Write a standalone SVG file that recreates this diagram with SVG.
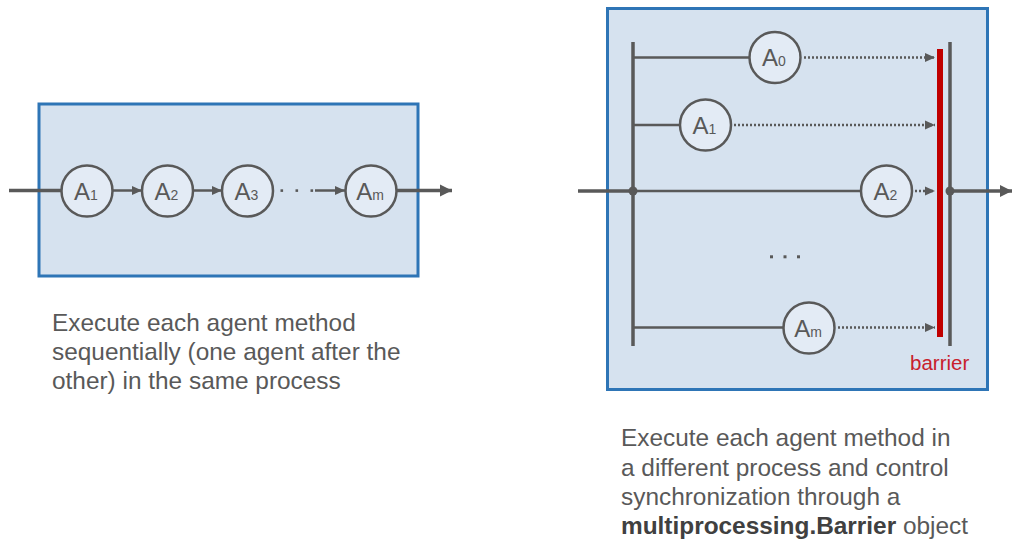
<svg xmlns="http://www.w3.org/2000/svg" width="1012" height="542" viewBox="0 0 1012 542">
  <style>
    .box { fill: #d6e2ef; stroke: #2e75b6; stroke-width: 3; }
    .agent circle { fill: #e3ebf5; stroke: #595959; stroke-width: 2.5; }
    .lbl { font-family: "Liberation Sans", Arial, sans-serif; font-size: 24px; fill: #595959; text-anchor: middle; }
    .sub { font-size: 14px; }
    .wire { stroke: #595959; stroke-width: 2.5; fill: none; }
    .thick { stroke: #595959; stroke-width: 3.5; fill: none; }
    .dots { stroke: #595959; stroke-width: 2.5; stroke-dasharray: 2 2; fill: none; }
    .caption { font-family: "Liberation Sans", Arial, sans-serif; font-size: 24.4px; fill: #595959; }
    .dot { fill: #595959; }
  </style>
  <defs>
    <marker id="arrow" markerUnits="userSpaceOnUse" markerWidth="13" markerHeight="13" viewBox="0 0 13 13" refX="12" refY="6.5" orient="auto">
      <path d="M0,0.5 L12,6.5 L0,12.5 Z" fill="#595959"/>
    </marker>
    <marker id="arrowSmall" markerUnits="userSpaceOnUse" markerWidth="10" markerHeight="10" viewBox="0 0 10 10" refX="10" refY="5" orient="auto">
      <path d="M0,0.5 L10,5 L0,9.5 Z" fill="#595959"/>
    </marker>
  </defs>

  <!-- Sequential execution -->
  <rect id="seq-box" class="box" x="39" y="104" width="379" height="172"/>

  <!-- Parallel execution with barrier -->
  <rect id="par-box" class="box" x="607.5" y="8.5" width="380" height="381"/>

  <g id="connectors">
    <!-- sequential chain -->
    <line class="thick" x1="9" y1="190.5" x2="61" y2="190.5"/>
    <line class="wire" x1="113" y1="190.5" x2="142" y2="190.5" marker-end="url(#arrowSmall)"/>
    <line class="wire" x1="193" y1="190.5" x2="222" y2="190.5" marker-end="url(#arrowSmall)"/>
    <rect class="dot" x="280.5" y="189.3" width="2.6" height="2.6"/>
    <rect class="dot" x="295.5" y="189.3" width="2.6" height="2.6"/>
    <rect class="dot" x="310.5" y="189.3" width="2.6" height="2.6"/>
    <line class="wire" x1="315" y1="190.5" x2="345" y2="190.5" marker-end="url(#arrowSmall)"/>
    <line class="thick" x1="397" y1="190.5" x2="452" y2="190.5" marker-end="url(#arrow)"/>

    <!-- fork -->
    <line class="thick" x1="578" y1="191" x2="633" y2="191"/>
    <line class="thick" x1="633" y1="42" x2="633" y2="346"/>
    <circle class="dot" cx="633" cy="191" r="4.5"/>
    <line class="wire" x1="633" y1="57.5" x2="749" y2="57.5"/>
    <line class="wire" x1="633" y1="125" x2="680" y2="125"/>
    <line class="wire" x1="633" y1="191" x2="861" y2="191"/>
    <line class="wire" x1="633" y1="327.5" x2="783" y2="327.5"/>

    <!-- waits on the barrier -->
    <line class="dots" x1="804" y1="57.5" x2="935" y2="57.5" marker-end="url(#arrowSmall)"/>
    <line class="dots" x1="734" y1="125" x2="935" y2="125" marker-end="url(#arrowSmall)"/>
    <line class="dots" x1="915" y1="191" x2="935" y2="191" marker-end="url(#arrowSmall)"/>
    <line class="dots" x1="838" y1="327.5" x2="935" y2="327.5" marker-end="url(#arrowSmall)"/>

    <!-- join -->
    <line class="thick" x1="950" y1="42" x2="950" y2="346"/>
    <circle class="dot" cx="950" cy="191" r="4.5"/>
    <line class="thick" x1="950" y1="191" x2="1012" y2="191" marker-end="url(#arrow)"/>

    <!-- omitted agents -->
    <rect class="dot" x="770" y="255.3" width="3" height="3"/>
    <rect class="dot" x="783.5" y="255.3" width="3" height="3"/>
    <rect class="dot" x="797" y="255.3" width="3" height="3"/>
  </g>

  <!-- barrier -->
  <g id="barrier">
    <line x1="940" y1="49" x2="940" y2="337" stroke="#c00000" stroke-width="6"/>
    <text x="910" y="369.5" font-family="Liberation Sans, Arial, sans-serif" font-size="20.5" fill="#c8202c">barrier</text>
  </g>

  <!-- sequential agents -->
  <g id="seq-a1" class="agent">
    <circle cx="87" cy="191" r="25.5"/>
    <text class="lbl" x="86" y="199.5">A<tspan class="sub">1</tspan></text>
  </g>
  <g id="seq-a2" class="agent">
    <circle cx="167.5" cy="191" r="25.5"/>
    <text class="lbl" x="166.5" y="199.5">A<tspan class="sub">2</tspan></text>
  </g>
  <g id="seq-a3" class="agent">
    <circle cx="247.5" cy="191" r="25.5"/>
    <text class="lbl" x="246.5" y="199.5">A<tspan class="sub">3</tspan></text>
  </g>
  <g id="seq-am" class="agent">
    <circle cx="371" cy="191" r="25.5"/>
    <text class="lbl" x="370" y="199.5">A<tspan class="sub">m</tspan></text>
  </g>

  <!-- parallel agents -->
  <g id="par-a0" class="agent">
    <circle cx="775" cy="57.5" r="25.5"/>
    <text class="lbl" x="774" y="66">A<tspan class="sub">0</tspan></text>
  </g>
  <g id="par-a1" class="agent">
    <circle cx="705.5" cy="125" r="25.5"/>
    <text class="lbl" x="704.5" y="133.5">A<tspan class="sub">1</tspan></text>
  </g>
  <g id="par-a2" class="agent">
    <circle cx="886.5" cy="191" r="25.5"/>
    <text class="lbl" x="885.5" y="199.5">A<tspan class="sub">2</tspan></text>
  </g>
  <g id="par-am" class="agent">
    <circle cx="809" cy="328" r="25.5"/>
    <text class="lbl" x="808" y="336.5">A<tspan class="sub">m</tspan></text>
  </g>

  <!-- captions -->
  <g id="seq-caption">
    <text class="caption" x="52" y="331">Execute each agent method</text>
    <text class="caption" x="52" y="360">sequentially (one agent after the</text>
    <text class="caption" x="52" y="389">other) in the same process</text>
  </g>
  <g id="par-caption">
    <text class="caption" x="621" y="446">Execute each agent method in</text>
    <text class="caption" x="621" y="475.5">a different process and control</text>
    <text class="caption" x="621" y="505">synchronization through a</text>
    <text class="caption" x="621" y="534"><tspan font-weight="bold" fill="#404040">multiprocessing.Barrier</tspan> object</text>
  </g>
</svg>
